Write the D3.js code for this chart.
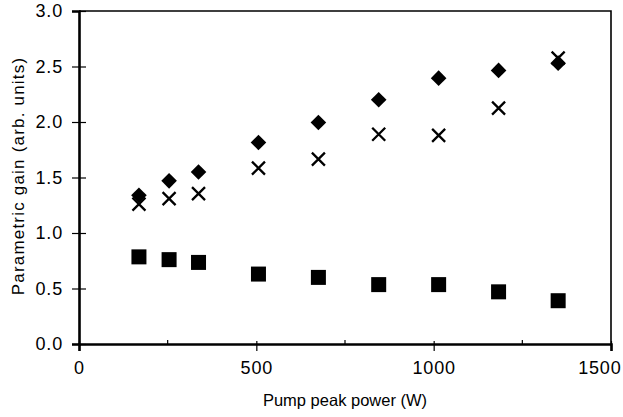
<!DOCTYPE html>
<html>
<head>
<meta charset="utf-8">
<script src="https://cdn.jsdelivr.net/npm/d3@7"></script>
<style>
  body { margin: 0; background: #fff; }
  svg { display: block; font-family: "Liberation Sans", Arial, sans-serif; }
</style>
</head>
<body>
<svg width="623" height="417"></svg>
<script>
// pump peak power (W)
const power = [169, 254, 337, 506, 675, 845, 1014, 1183, 1351];
// parametric gain, three series
const gainDiamond = [1.34, 1.47, 1.55, 1.815, 1.995, 2.20, 2.395, 2.465, 2.53];
const gainCross   = [1.26, 1.31, 1.355, 1.585, 1.665, 1.89, 1.88, 2.125, 2.575];
const gainSquare  = [0.785, 0.76, 0.735, 0.63, 0.60, 0.535, 0.535, 0.47, 0.39];
const xTicks = [0, 500, 1000, 1500];
const xMinor = [250, 750, 1250];
const yTicks = [0, 0.5, 1.0, 1.5, 2.0, 2.5, 3.0];

const margin = { top: 11, right: 12, bottom: 73, left: 79 },
      width = 623 - margin.left - margin.right,
      height = 417 - margin.top - margin.bottom;

const svg = d3.select("svg")
  .append("g")
  .attr("transform", `translate(${margin.left},${margin.top})`);

const x = d3.scaleLinear().domain([0, 1500]).range([0, width]);
const y = d3.scaleLinear().domain([0, 3]).range([height, 0]);

// frame (top and right)
svg.append("path")
  .attr("d", `M0,0H${width}V${height}`)
  .attr("fill", "none")
  .attr("stroke", "#000")
  .attr("stroke-width", 1.6);

// y axis
const yAxis = svg.append("g")
  .call(d3.axisLeft(y).tickValues(yTicks).tickFormat(d3.format(".1f")).tickSize(7).tickPadding(9));
yAxis.select(".domain").attr("stroke-width", 2.6);
yAxis.selectAll(".tick line").attr("x2", 7).attr("x1", -7).attr("stroke-width", 1.2);
yAxis.selectAll("text")
  .attr("font-size", 18).attr("letter-spacing", 0.8)
  .attr("fill", "#000").attr("font-family", "Liberation Sans, Arial, sans-serif");

// x axis
const xAxis = svg.append("g")
  .attr("transform", `translate(0,${height})`)
  .call(d3.axisBottom(x).tickValues(xTicks).tickFormat(d3.format("d")).tickSize(7).tickPadding(10));
xAxis.select(".domain").attr("stroke-width", 2.6);
xAxis.selectAll(".tick line").attr("y1", -3).attr("stroke-width", 1.2);
xAxis.selectAll("text")
  .attr("font-size", 18).attr("letter-spacing", 0.8)
  .attr("fill", "#000").attr("font-family", "Liberation Sans, Arial, sans-serif");
// last label sits against the right edge of the picture
xAxis.selectAll("text").filter(d => d === 1500).attr("text-anchor", "end").attr("x", 10);

svg.append("g")
  .selectAll("line")
  .data(xMinor)
  .join("line")
  .attr("x1", d => x(d)).attr("x2", d => x(d))
  .attr("y1", height).attr("y2", height - 4)
  .attr("stroke", "#000")
  .attr("stroke-width", 1.2);

// titles
svg.append("text")
  .attr("x", width / 2)
  .attr("y", height + 62)
  .attr("text-anchor", "middle")
  .attr("font-size", 16.5)
  .text("Pump peak power (W)");

svg.append("text")
  .attr("transform", "rotate(-90)")
  .attr("x", -(176 - margin.top))
  .attr("y", -55)
  .attr("text-anchor", "middle")
  .attr("font-size", 17)
  .attr("letter-spacing", 1.2)
  .text("Parametric gain (arb. units)");

// squares
svg.selectAll(".sq")
  .data(power.map((p, i) => [p, gainSquare[i]]))
  .join("rect")
  .attr("class", "sq")
  .attr("x", d => x(d[0]) - 7.5)
  .attr("y", d => y(d[1]) - 7.5)
  .attr("width", 15)
  .attr("height", 15)
  .attr("fill", "#000");

// crosses
svg.selectAll(".cross")
  .data(power.map((p, i) => [p, gainCross[i]]))
  .join("path")
  .attr("class", "cross")
  .attr("d", d => {
    const cx = x(d[0]), cy = y(d[1]), s = 6.5;
    return `M${cx - s},${cy - s}L${cx + s},${cy + s}M${cx - s},${cy + s}L${cx + s},${cy - s}`;
  })
  .attr("stroke", "#000")
  .attr("stroke-width", 2.3)
  .attr("fill", "none");

// diamonds
svg.selectAll(".dm")
  .data(power.map((p, i) => [p, gainDiamond[i]]))
  .join("path")
  .attr("class", "dm")
  .attr("d", d => {
    const cx = x(d[0]), cy = y(d[1]), s = 7.8;
    return `M${cx},${cy - s}L${cx + s},${cy}L${cx},${cy + s}L${cx - s},${cy}Z`;
  })
  .attr("fill", "#000");
</script>
</body>
</html>
